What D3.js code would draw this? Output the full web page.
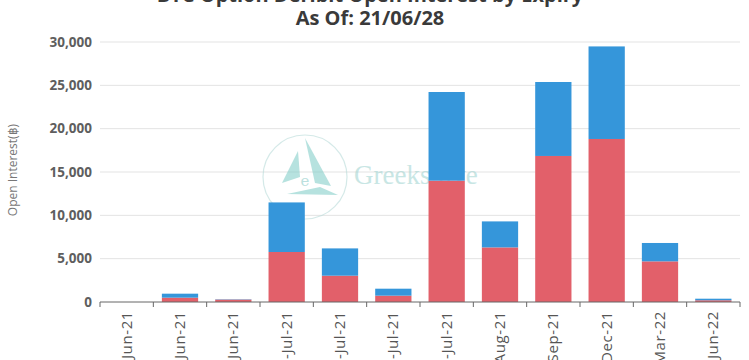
<!DOCTYPE html>
<html><head><meta charset="utf-8">
<script src="https://cdn.jsdelivr.net/npm/d3@7"></script>
<style>body{margin:0;background:#fff}svg{display:block;font-family:"Open Sans",sans-serif}</style>
</head><body><svg id="c" width="749" height="360"></svg>
<script>
const expiries = ["28-Jun-21","29-Jun-21","30-Jun-21","02-Jul-21","09-Jul-21","16-Jul-21","30-Jul-21","27-Aug-21","24-Sep-21","31-Dec-21","25-Mar-22","24-Jun-22"];
const putsOI  = [0, 500, 280, 5770, 3035, 730, 14000, 6300, 16850, 18810, 4690, 200];
const callsOI = [0, 460, 40, 5720, 3150, 805, 10230, 3000, 8535, 10680, 2120, 180];
const yTicks = [0, 5000, 10000, 15000, 20000, 25000, 30000];
const titleLines = ["BTC Option Deribit Open Interest by Expiry", "As Of: 21/06/28"];
const yTitle = "Open Interest(฿)";

const svg = d3.select("#c");
const m = {l:100, r:9, t:42, b:58};
const W = 749, H = 360;
const x = d3.scaleBand().domain(expiries).range([m.l, W - m.r]).paddingInner(0.32).paddingOuter(0.16);
const y = d3.scaleLinear().domain([0, 30000]).range([H - m.b, m.t]);

// grid
svg.append("g").selectAll("line").data(yTicks.slice(1)).join("line")
  .attr("x1", m.l).attr("x2", W - m.r).attr("y1", d => y(d)).attr("y2", d => y(d))
  .attr("stroke", "#e3e3e3").attr("stroke-width", 1);

// watermark
const wm = svg.append("g").attr("opacity", 0.6);
wm.append("circle").attr("cx", 305).attr("cy", 177).attr("r", 42).attr("fill", "none").attr("stroke", "#b9dcda").attr("stroke-width", 1.2);
wm.append("path").attr("d", "M305,138 L331,186 L315,183 Z").attr("fill", "#86cfca");
wm.append("path").attr("d", "M298,151 L282,183 L300,177 Z").attr("fill", "#86cfca");
wm.append("path").attr("d", "M287,194 L338,195 L320,187 Z").attr("fill", "#86cfca");
wm.append("text").attr("x", 305).attr("y", 186).attr("font-family", "DejaVu Serif, serif").attr("font-size", 15).attr("fill", "#8fcdca").attr("text-anchor", "middle").text("e");
wm.append("text").attr("x", 354).attr("y", 184).attr("font-family", "Liberation Serif, serif").attr("font-size", 27).attr("fill", "#a5d6d3").text("Greeks.live");

// bars
const stack = expiries.map((e, i) => ({e, p: putsOI[i], c: callsOI[i]}));
svg.append("g").selectAll("rect").data(stack).join("rect")
  .attr("x", d => x(d.e)).attr("width", x.bandwidth())
  .attr("y", d => y(d.p)).attr("height", d => y(0) - y(d.p)).attr("fill", "#e2606a");
svg.append("g").selectAll("rect").data(stack).join("rect")
  .attr("x", d => x(d.e)).attr("width", x.bandwidth())
  .attr("y", d => y(d.p + d.c)).attr("height", d => y(d.p) - y(d.p + d.c)).attr("fill", "#3596da");

// y labels
svg.append("g").selectAll("text").data(yTicks).join("text")
  .attr("x", 92).attr("y", d => y(d) + 4.5).attr("text-anchor", "end")
  .attr("font-size", 13.5).attr("font-weight", "bold").attr("fill", "#5e5e5e")
  .text(d => d3.format(",")(d));

// x axis
const xa = svg.append("g");
xa.append("line").attr("x1", m.l).attr("x2", W - m.r).attr("y1", y(0)).attr("y2", y(0)).attr("stroke", "#666");
const step = (W - m.r - m.l) / expiries.length;
xa.selectAll("line.t").data(d3.range(expiries.length + 1)).join("line").attr("class", "t")
  .attr("x1", i => m.l + i * step).attr("x2", i => m.l + i * step)
  .attr("y1", y(0)).attr("y2", y(0) + 5).attr("stroke", "#666");
xa.selectAll("text").data(expiries).join("text")
  .attr("transform", d => `translate(${x(d) + x.bandwidth() / 2 + 5},311) rotate(-90)`)
  .attr("text-anchor", "end").attr("font-size", 15).attr("letter-spacing", 0.6).attr("fill", "#555")
  .text(d => d);

// y title
svg.append("text").attr("transform", "translate(17,170) rotate(-90)").attr("text-anchor", "middle")
  .attr("font-size", 12).attr("fill", "#777").text(yTitle);

// title
svg.append("g").selectAll("text").data(titleLines).join("text")
  .attr("x", 370).attr("y", (d, i) => 2 + i * 23).attr("text-anchor", "middle")
  .attr("font-size", 20).attr("font-weight", "bold").attr("fill", "#3a3a3a").text(d => d);
</script></body></html>
